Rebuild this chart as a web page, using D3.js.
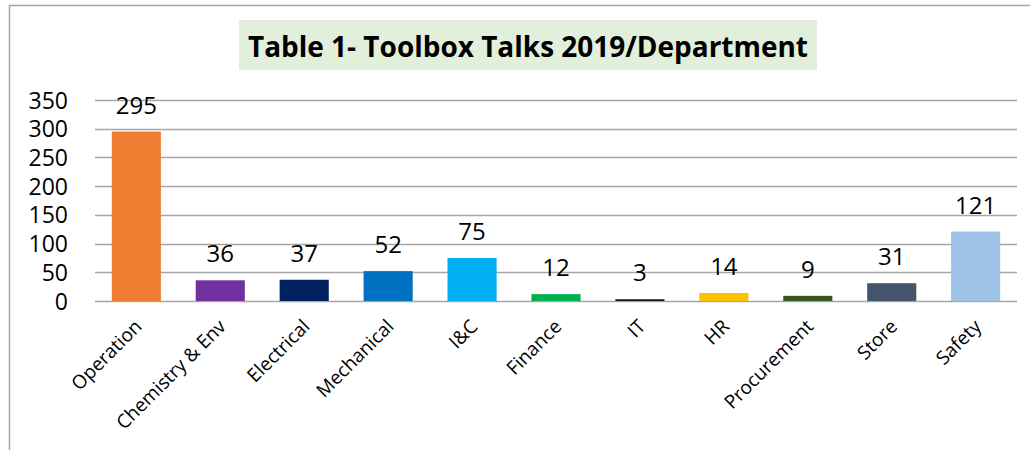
<!DOCTYPE html>
<html>
<head>
<meta charset="utf-8">
<script src="https://cdn.jsdelivr.net/npm/d3@7"></script>
<style>
  body { margin: 0; background: #fff; }
  svg { display: block; font-family: 'Open Sans', sans-serif; }
</style>
</head>
<body>
<svg id="chart" width="1030" height="450"></svg>
<script>
var departments = [ 'Operation', 'Chemistry & Env', 'Electrical', 'Mechanical', 'I&C',
  'Finance', 'IT', 'HR', 'Procurement', 'Store', 'Safety' ];
var talks = [ 295, 36, 37, 52, 75, 12, 3, 14, 9, 31, 121 ];
var barColors = [ '#ED7D31', '#7030A0', '#002060', '#0070C0', '#00B0F0',
  '#00B050', '#111111', '#FFC000', '#375623', '#44546A', '#9DC3E6' ];
var yTicks = [ 0, 50, 100, 150, 200, 250, 300, 350 ];
var title = 'Table 1- Toolbox Talks 2019/Department';

var svg = d3.select( '#chart' ),
  margin = { top: 100, right: 13, bottom: 149, left: 95 },
  width = +svg.attr( 'width' ),
  height = +svg.attr( 'height' );

var data = departments.map( ( d, i ) => ( { name: d, value: talks[ i ], color: barColors[ i ] } ) );

// outer frame
svg.append( 'rect' )
  .attr( 'x', 9.5 ).attr( 'y', 5.5 )
  .attr( 'width', width + 10 ).attr( 'height', height + 10 )
  .attr( 'fill', 'none' )
  .attr( 'stroke', '#a6a6a6' )
  .attr( 'stroke-width', 1.5 );

var x = d3.scaleBand()
  .domain( departments )
  .range( [ margin.left, width - margin.right ] )
  .paddingInner( 0.415 )
  .paddingOuter( 0.2 );

var y = d3.scaleLinear()
  .domain( [ 0, 350 ] )
  .range( [ height - margin.bottom, margin.top ] );

/* Grid + y axis */

svg.append( 'g' )
  .attr( 'class', 'grid' )
  .selectAll( 'line' )
  .data( yTicks )
  .enter().append( 'line' )
    .attr( 'x1', margin.left )
    .attr( 'x2', width - margin.right )
    .attr( 'y1', d => Math.round( y( d ) ) + 0.5 )
    .attr( 'y2', d => Math.round( y( d ) ) + 0.5 )
    .attr( 'stroke', '#a6a6a6' )
    .attr( 'stroke-width', 1.5 );

var yAxis = svg.append( 'g' )
  .attr( 'transform', 'translate(' + 68 + ',0)' )
  .call( d3.axisLeft( y ).tickValues( yTicks ).tickSize( 0 ).tickPadding( 0 ) );

yAxis.select( '.domain' ).remove();
yAxis.selectAll( 'text' )
  .attr( 'font-family', 'Open Sans' )
  .attr( 'font-size', 23 )
  .attr( 'fill', '#000' )
  .attr( 'dy', '0.35em' );

/* Bars */

svg.append( 'g' )
  .selectAll( 'rect' )
  .data( data )
  .enter().append( 'rect' )
    .attr( 'x', d => x( d.name ) )
    .attr( 'y', d => y( d.value ) )
    .attr( 'width', x.bandwidth() )
    .attr( 'height', d => y( 0 ) - y( d.value ) )
    .attr( 'fill', d => d.color );

svg.append( 'g' )
  .selectAll( 'text' )
  .data( data )
  .enter().append( 'text' )
    .attr( 'x', d => x( d.name ) + x.bandwidth() / 2 )
    .attr( 'y', d => y( d.value ) - 18 )
    .attr( 'text-anchor', 'middle' )
    .attr( 'font-size', 24 )
    .attr( 'fill', '#000' )
    .text( d => d.value );

/* X labels */

var xAxis = svg.append( 'g' )
  .attr( 'transform', 'translate(0,' + y( 0 ) + ')' )
  .call( d3.axisBottom( x ).tickSize( 0 ).tickPadding( 0 ) );

xAxis.select( '.domain' ).remove();
xAxis.selectAll( 'text' )
  .attr( 'font-family', 'Open Sans' )
  .attr( 'font-size', 19 )
  .attr( 'fill', '#000' )
  .attr( 'text-anchor', 'end' )
  .attr( 'dy', '0.35em' )
  .attr( 'transform', 'translate(2,22) rotate(-45)' );

/* Title */

var titleBox = svg.append( 'rect' )
  .attr( 'x', 239 ).attr( 'y', 20 )
  .attr( 'width', 578 ).attr( 'height', 50 )
  .attr( 'fill', '#E2EFDA' );

var titleText = svg.append( 'text' )
  .attr( 'x', 528 )
  .attr( 'y', 57 )
  .attr( 'text-anchor', 'middle' )
  .attr( 'font-size', 29 )
  .attr( 'font-weight', 'bold' )
  .attr( 'fill', '#000' )
  .text( title );

// squeeze title to the reference width
var tw = titleText.node().getComputedTextLength();
if ( tw > 560 ) titleText.attr( 'textLength', 560 ).attr( 'lengthAdjust', 'spacingAndGlyphs' );
</script>
</body>
</html>
